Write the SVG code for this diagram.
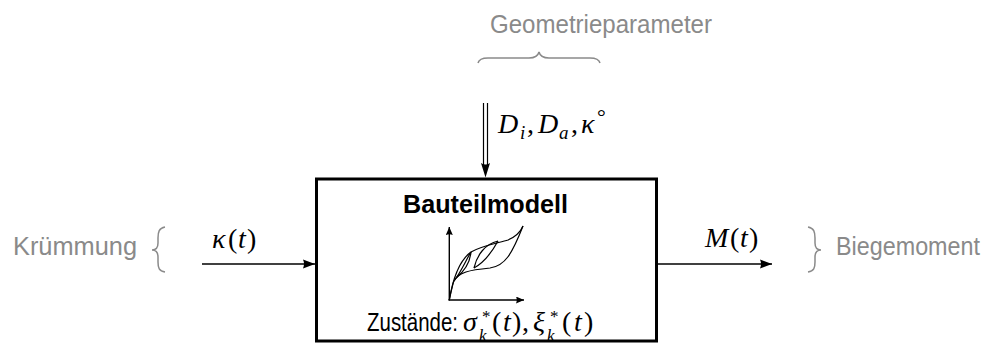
<svg xmlns="http://www.w3.org/2000/svg" width="989" height="349" viewBox="0 0 989 349">
<style>
.gray{font-family:"Liberation Sans","DejaVu Sans",sans-serif;font-size:25px;fill:#8a8a8a}
.sans{font-family:"Liberation Sans","DejaVu Sans",sans-serif;fill:#000}
.m{font-family:"Liberation Serif","DejaVu Serif",serif;font-size:28px;fill:#000}
.mi{font-style:italic}
.brace{fill:none;stroke:#8a8a8a;stroke-width:1.5}
.ln{fill:none;stroke:#000;stroke-width:1.4}
.curve{fill:none;stroke:#000;stroke-width:1.2}
</style>
<defs>
<marker id="ah" viewBox="0 0 12 10" refX="12" refY="5" markerWidth="12" markerHeight="10" markerUnits="userSpaceOnUse" orient="auto">
<path d="M0,0.5 L12,5 L0,9.5 Q2,5 0,0.5 Z" fill="#000"/>
</marker>
<marker id="ahs" viewBox="0 0 8 7" refX="8" refY="3.5" markerWidth="8" markerHeight="7" markerUnits="userSpaceOnUse" orient="auto">
<path d="M0,0 L8,3.5 L0,7 Q1.5,3.5 0,0 Z" fill="#000"/>
</marker>
</defs>

<g id="geometrieparameter">
<text class="gray" x="490" y="33" textLength="222" lengthAdjust="spacingAndGlyphs">Geometrieparameter</text>
<path class="brace" d="M478,63 C479,59 482,58 488,58 L529,58 C535,58 538,56 539,52 C540,56 543,58 549,58 L590,58 C596,58 599,59 600,63"/>
</g>

<g id="kruemmung">
<text class="gray" x="13" y="255" textLength="124" lengthAdjust="spacingAndGlyphs">Krümmung</text>
<path class="brace" d="M165,227 C159,228 158,232 158,238 L158,243 C158,248 156,250 152,250 C156,250 158,252 158,257 L158,262 C158,268 159,271 165,272"/>
</g>

<g id="biegemoment">
<text class="gray" x="836" y="255" textLength="144" lengthAdjust="spacingAndGlyphs">Biegemoment</text>
<path class="brace" d="M808,227 C814,228 815,232 815,238 L815,243 C815,248 817,250 821,250 C817,250 815,252 815,257 L815,262 C815,268 814,271 808,272"/>
</g>

<g id="bauteilmodell">
<rect x="316.5" y="179" width="340" height="162" fill="#fff" stroke="#000" stroke-width="3"/>
<text class="sans" x="485.5" y="213" font-size="25" font-weight="bold" text-anchor="middle" textLength="165" lengthAdjust="spacingAndGlyphs">Bauteilmodell</text>
<g id="graph">
<line class="ln" x1="449.3" y1="300.5" x2="449.3" y2="227" marker-end="url(#ahs)"/>
<line class="ln" x1="448.6" y1="300" x2="524" y2="300" marker-end="url(#ahs)"/>
<path class="curve" d="M449.3,300 C451,292 452,287 453.5,282"/>
<path class="curve" d="M449.3,300 C452,284 457,262 471,252 C481,246 498,243 508,240 C515,237 520,233 523,226"/>
<path class="curve" d="M453.5,282 C458,272 470,270 490,268 C505,266 512,254 523,226"/>
<path class="curve" d="M471,252 C466,260 461,272 454,281"/>
<path class="curve" d="M471,252 C470,262 466,270 456,278"/>
<path class="curve" d="M474,268 C477,255 485,244 498,241"/>
<path class="curve" d="M474,268 C485,262 492,252 498,241"/>
</g>
<text class="sans" x="367" y="331" font-size="25" textLength="91" lengthAdjust="spacingAndGlyphs">Zustände:</text>
<text class="m" y="331"><tspan class="mi" x="463">σ</tspan><tspan x="482" y="322" font-size="17">*</tspan><tspan class="mi" x="479" y="341" font-size="17">k</tspan><tspan x="492" y="331">(</tspan><tspan class="mi" x="503">t</tspan><tspan x="512">)</tspan><tspan x="522">,</tspan><tspan class="mi" x="533">ξ</tspan><tspan x="550" y="322" font-size="17">*</tspan><tspan class="mi" x="547" y="341" font-size="17">k</tspan><tspan x="562" y="331">(</tspan><tspan class="mi" x="574">t</tspan><tspan x="584">)</tspan></text>
</g>

<g id="connectors">
<line x1="483.5" y1="103" x2="483.5" y2="166" stroke="#000" stroke-width="1.2"/>
<line x1="487.5" y1="103" x2="487.5" y2="166" stroke="#000" stroke-width="1.2"/>
<path d="M485.5,177.5 L481,163 Q485.5,166 490,163 Z" fill="#000"/>
<line class="ln" x1="202" y1="264" x2="315" y2="264" marker-end="url(#ah)"/>
<line class="ln" x1="658" y1="264" x2="772" y2="264" marker-end="url(#ah)"/>
</g>

<g id="labels">
<text class="m" y="133"><tspan class="mi" x="498">D</tspan><tspan class="mi" x="520" y="139" font-size="19">i</tspan><tspan x="527" y="133">,</tspan><tspan class="mi" x="538">D</tspan><tspan class="mi" x="559" y="139" font-size="19">a</tspan><tspan x="571" y="133">,</tspan><tspan class="mi" x="581">κ</tspan><tspan x="597" y="124" font-size="22">°</tspan></text>
<text class="m" y="248"><tspan class="mi" x="212">κ</tspan><tspan x="228">(</tspan><tspan class="mi" x="238">t</tspan><tspan x="247">)</tspan></text>
<text class="m" y="247"><tspan class="mi" x="705">M</tspan><tspan x="730">(</tspan><tspan class="mi" x="740">t</tspan><tspan x="749">)</tspan></text>
</g>
</svg>
